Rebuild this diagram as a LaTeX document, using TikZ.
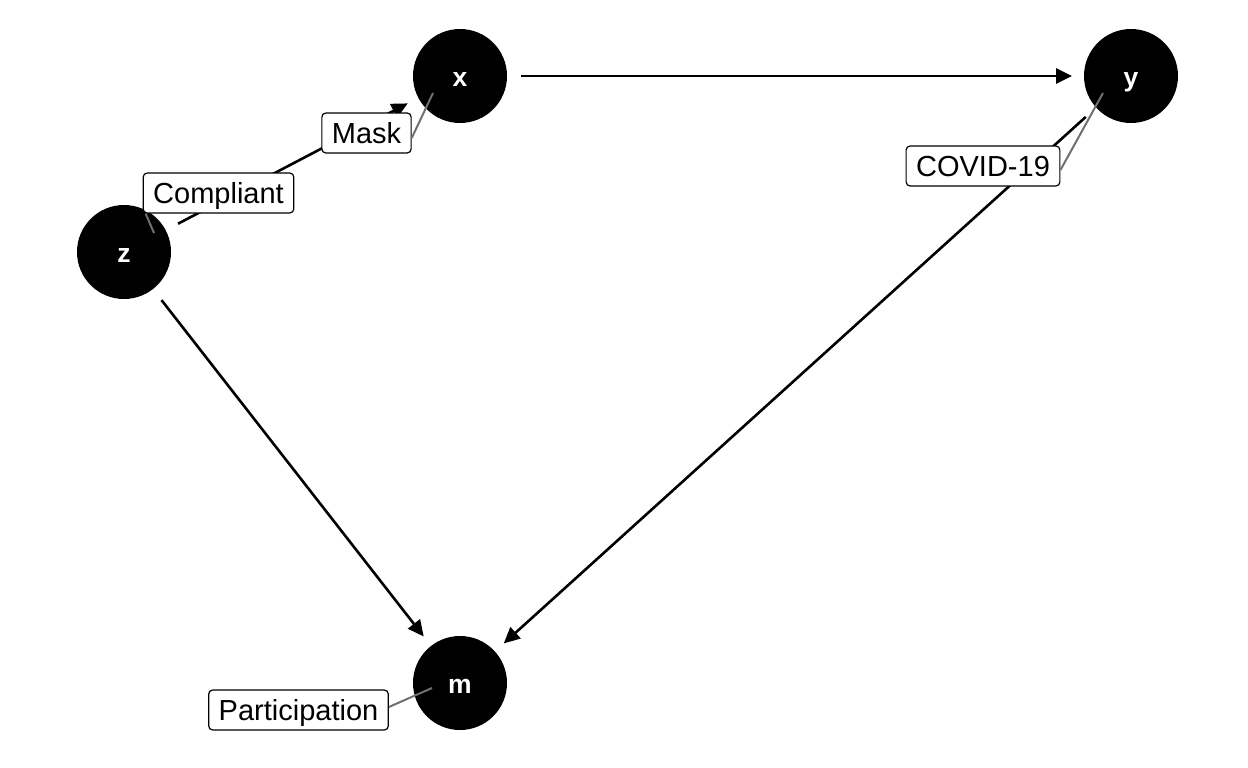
\documentclass[tikz,border=0pt]{standalone}
\usepackage{fontspec}
\setmainfont{Liberation Sans}
\usetikzlibrary{arrows.meta}
\definecolor{leadgray}{HTML}{707070}
\begin{document}
\begin{tikzpicture}[x=1pt,y=-1pt,
  var/.style={circle,fill=black,minimum size=94pt,inner sep=0pt,outer sep=0pt,text=white,text height=20pt,text depth=0pt,font=\fontsize{26.5}{30}\selectfont\bfseries},
  edge/.style={line width=2.6pt,-{Triangle[length=16pt,width=15pt]},shorten <=14pt,shorten >=12pt},
  lab/.style={draw=black,fill=white,rounded corners=4pt,line width=1.2pt,font=\fontsize{29}{30}\selectfont,inner xsep=10pt,text height=20.8pt,text depth=0pt,inner ysep=9.6pt},
  leader/.style={draw=leadgray,line width=2pt}]
\useasboundingbox (0,0) rectangle (1248,768);
% variables
\node[var] (x) at (460,76) {x};
\node[var] (y) at (1131,76) {y};
\node[var] (z) at (124,252) {z};
\node[var] (m) at (460,683) {m};
% edges
\draw[edge] (z) -- (x);
\draw[edge] (x) -- (y);
\draw[edge] (z) -- (m);
\draw[edge] (y) -- (m);
% labels
\node[lab] (lmask) at (366.5,133) {Mask};
\node[lab] (lcomp) at (218.5,193) {Compliant};
\node[lab] (lcovid) at (983,166) {COVID-19};
\node[lab] (lpart) at (298.5,710) {Participation};
% leader endpoints
\coordinate (xin) at (433,93);
\coordinate (zin) at (154,233);
\coordinate (yin) at (1103,93);
\coordinate (min) at (432,688);
\draw[leader] ([yshift=-5pt]lmask.east) -- (xin);
\draw[leader] ([xshift=3pt]lcomp.south west) -- (zin);
\draw[leader] ([yshift=-4pt]lcovid.east) -- (yin);
\draw[leader] ([yshift=3pt]lpart.east) -- (min);
\end{tikzpicture}
\end{document}
